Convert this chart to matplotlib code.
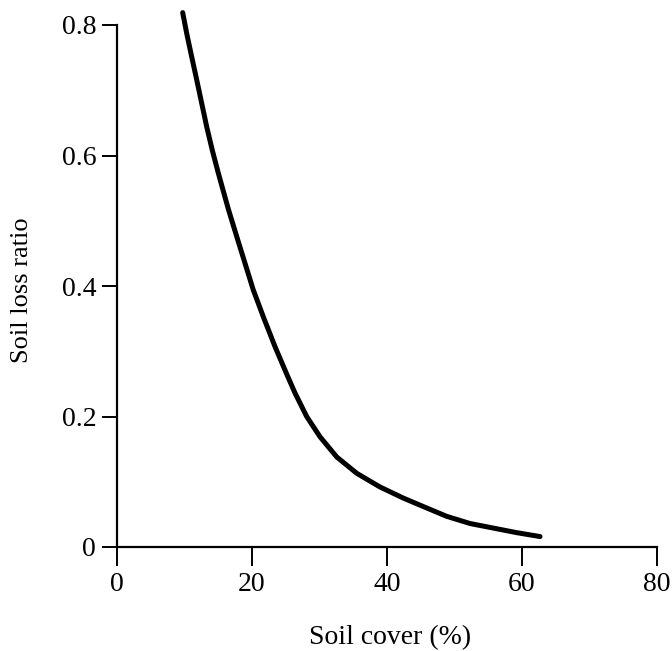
import matplotlib
matplotlib.use("Agg")
import matplotlib.pyplot as plt

soil_cover = [9.73, 10.33, 11.07, 11.81, 12.55, 13.29, 14.12, 15.01, 16.49,
              17.73, 18.96, 20.19, 21.67, 23.41, 25.1, 26.37, 28.10, 30.07, 32.55,
              35.51, 38.96, 42.41, 45.38, 48.84, 52.30, 55.75, 59.21, 62.67]
soil_loss_ratio = [0.819, 0.787, 0.751, 0.716, 0.680, 0.644, 0.608, 0.573, 0.518,
                   0.476, 0.435, 0.394, 0.353, 0.307, 0.266, 0.236, 0.200, 0.169, 0.138,
                   0.113, 0.092, 0.075, 0.062, 0.047, 0.036, 0.029, 0.022, 0.016]

x_ticks = [0, 20, 40, 60, 80]
y_ticks = [0, 0.2, 0.4, 0.6, 0.8]
y_tick_labels = ["0", "0.2", "0.4", "0.6", "0.8"]

plt.rcParams['font.family'] = ['Liberation Serif', 'DejaVu Serif']

fig = plt.figure(figsize=(6.72, 6.51), dpi=100)
ax = fig.add_axes([117/672, 1 - 547/651, 540/672, 522/651])

ax.plot(soil_cover, soil_loss_ratio, color='black', lw=3.6,
        solid_capstyle='round', solid_joinstyle='round', clip_on=False)

ax.set_xlim(0, 80)
ax.set_ylim(0, 0.8)
ax.set_xticks(x_ticks)
ax.set_xticklabels([str(v) for v in x_ticks])
ax.set_yticks(y_ticks)
ax.set_yticklabels(y_tick_labels)

for s in ['top', 'right']:
    ax.spines[s].set_visible(False)
for s in ['left', 'bottom']:
    ax.spines[s].set_linewidth(1.6)

ax.tick_params(axis='x', direction='out', length=14, width=1.4, pad=4, labelsize=20)
ax.tick_params(axis='y', direction='out', length=11, width=1.4, pad=4, labelsize=20)

ax.set_xlabel("Soil cover (%)", fontsize=20, va='center')
ax.xaxis.set_label_coords(0.506, -0.174)
ax.set_ylabel("Soil loss ratio", fontsize=19, va='center')
ax.yaxis.set_label_coords(-0.176, 0.492)

fig.savefig("out.png", dpi=100)
